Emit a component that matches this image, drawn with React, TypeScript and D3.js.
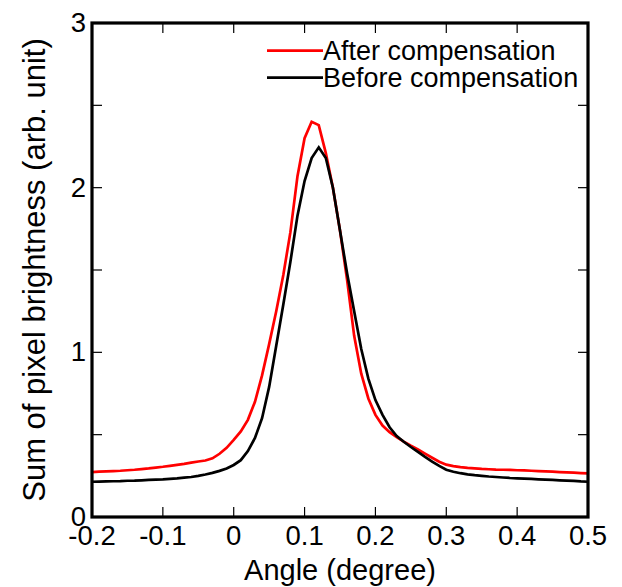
import React from "react";
import * as d3 from "d3";

const angles: number[] = d3.range(0, 71).map((i) => -0.2 + i * 0.01);

const afterComp: number[] = [
  0.273, 0.275, 0.277, 0.279, 0.281, 0.284, 0.287, 0.291, 0.295, 0.3,
  0.305, 0.311, 0.317, 0.323, 0.33, 0.337, 0.343, 0.356, 0.384, 0.42,
  0.468, 0.52, 0.59, 0.7, 0.86, 1.05, 1.25, 1.47, 1.73, 2.07,
  2.3, 2.4, 2.38, 2.21, 2.0, 1.74, 1.44, 1.1, 0.87, 0.72,
  0.62, 0.555, 0.515, 0.485, 0.458, 0.433, 0.41, 0.385, 0.36, 0.336,
  0.318, 0.309, 0.303, 0.298, 0.295, 0.292, 0.29, 0.288, 0.287, 0.286,
  0.284, 0.283, 0.281, 0.279, 0.277, 0.275, 0.273, 0.271, 0.269, 0.267,
  0.265,
];

const beforeComp: number[] = [
  0.214, 0.215, 0.216, 0.217, 0.218, 0.22, 0.221, 0.223, 0.225, 0.227,
  0.229, 0.232, 0.235, 0.239, 0.243, 0.25, 0.258, 0.268, 0.28, 0.295,
  0.316, 0.345, 0.4, 0.48, 0.6, 0.79, 1.04, 1.29, 1.55, 1.83,
  2.04, 2.18, 2.245, 2.18, 2.0, 1.74, 1.48, 1.25, 1.02, 0.84,
  0.71, 0.62, 0.545, 0.492, 0.457, 0.425, 0.395, 0.365, 0.337, 0.31,
  0.287, 0.275, 0.266, 0.259, 0.254, 0.25, 0.246, 0.243, 0.24, 0.237,
  0.235, 0.233, 0.231, 0.229, 0.227, 0.225, 0.223, 0.221, 0.219, 0.216,
  0.214,
];

const xTicks: number[] = [-0.2, -0.1, 0, 0.1, 0.2, 0.3, 0.4, 0.5];
const xTickLabels: string[] = ["-0.2", "-0.1", "0", "0.1", "0.2", "0.3", "0.4", "0.5"];
const yTicks: number[] = [0, 0.5, 1, 1.5, 2, 2.5, 3];
const yTickLabels: number[] = [0, 1, 2, 3];

const seriesNames: string[] = ["After compensation", "Before compensation"];
const seriesColors: string[] = ["#ff0000", "#000000"];

const W = 622;
const H = 587;
const L = 92;
const R = 588;
const T = 23;
const B = 517;
const FONT = "'Liberation Sans', Arial, Helvetica, sans-serif";

export default function App() {
  const x = d3.scaleLinear().domain([-0.2, 0.5]).range([L, R]);
  const y = d3.scaleLinear().domain([0, 3]).range([B, T]);
  const line = d3
    .line<number>()
    .x((_, i) => x(angles[i]))
    .y((d) => y(d));
  const series = [afterComp, beforeComp];
  const tickLen = 10;

  return (
    <svg
      width={W}
      height={H}
      style={{ position: "absolute", left: 0, top: 0, background: "#fff" }}
      fontFamily={FONT}
    >
      <rect x={0} y={0} width={W} height={H} fill="#fff" />
      {xTicks.map((t, i) => (
        <g key={"xt" + i} stroke="#000" strokeWidth={1.2}>
          <line x1={x(t)} x2={x(t)} y1={B} y2={B - tickLen} />
          <line x1={x(t)} x2={x(t)} y1={T} y2={T + tickLen} />
        </g>
      ))}
      {yTicks.map((t, i) => (
        <g key={"yt" + i} stroke="#000" strokeWidth={1.2}>
          <line x1={L} x2={L + tickLen} y1={y(t)} y2={y(t)} />
          <line x1={R} x2={R - tickLen} y1={y(t)} y2={y(t)} />
        </g>
      ))}
      {series.map((s, i) => (
        <path
          key={"s" + i}
          d={line(s) || ""}
          fill="none"
          stroke={seriesColors[i]}
          strokeWidth={2.7}
          strokeLinejoin="miter"
        />
      ))}
      <rect
        x={L}
        y={T}
        width={R - L}
        height={B - T}
        fill="none"
        stroke="#000"
        strokeWidth={3.2}
      />
      {xTicks.map((t, i) => (
        <text
          key={"xl" + i}
          x={x(t)}
          y={545}
          fontSize={27.5}
          textAnchor="middle"
          fill="#000"
        >
          {xTickLabels[i]}
        </text>
      ))}
      {yTickLabels.map((t, i) => (
        <text
          key={"yl" + i}
          x={86}
          y={y(t) + 9}
          fontSize={27.5}
          textAnchor="end"
          fill="#000"
        >
          {t}
        </text>
      ))}
      <text x={(L + R) / 2} y={580} fontSize={29} textAnchor="middle" fill="#000">
        Angle (degree)
      </text>
      <text
        transform={`translate(45, ${(T + B) / 2}) rotate(-90)`}
        fontSize={31}
        textAnchor="middle"
        fill="#000"
      >
        Sum of pixel brightness (arb. unit)
      </text>
      {seriesNames.map((n, i) => (
        <g key={"lg" + i}>
          <line
            x1={267}
            x2={323}
            y1={50.7 + i * 27}
            y2={50.7 + i * 27}
            stroke={seriesColors[i]}
            strokeWidth={2.7}
          />
          <text x={323} y={60 + i * 27} fontSize={27} fill="#000">
            {n}
          </text>
        </g>
      ))}
    </svg>
  );
}
